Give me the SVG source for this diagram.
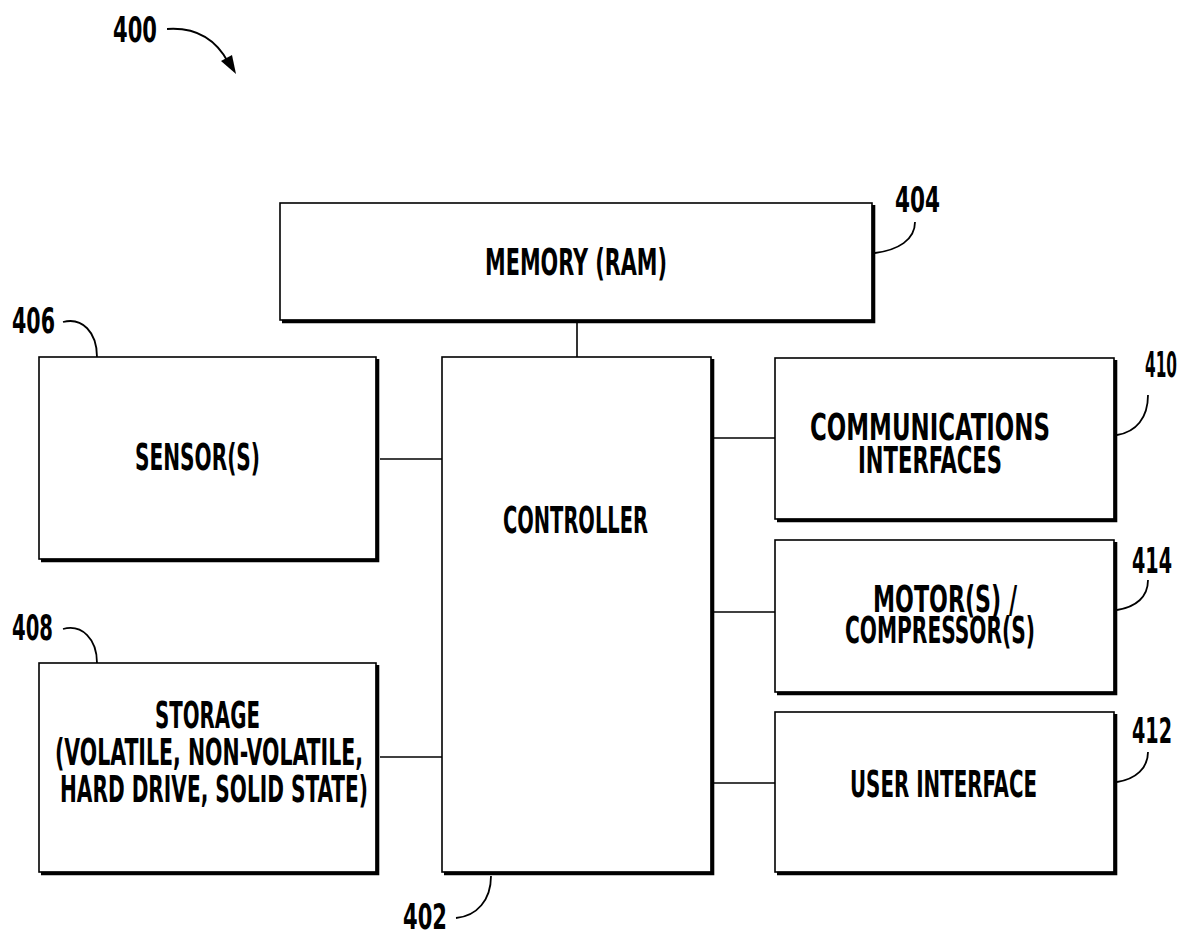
<svg xmlns="http://www.w3.org/2000/svg" width="1183" height="938" viewBox="0 0 1183 938">
<style>
.box{fill:#fff;stroke:#000;stroke-width:1.6}
.sh{fill:none;stroke:#000;stroke-width:3.6;stroke-linejoin:miter}
.ln{fill:none;stroke:#000;stroke-width:1.6}
.ld{fill:none;stroke:#000;stroke-width:1.8}
.t{font-family:"Liberation Sans Narrow","DejaVu Sans Condensed","Liberation Sans",sans-serif;font-size:38px;font-weight:bold;fill:#000;text-anchor:middle}
.n{font-family:"Liberation Sans Narrow","DejaVu Sans Condensed","Liberation Sans",sans-serif;font-size:36px;fill:#000;font-weight:bold}
.ne{text-anchor:end}
</style>
<rect width="1183" height="938" fill="#fff"/>
<g id="connectors">
<path class="ln" d="M577 322V357"/>
<path class="ln" d="M380 459H442"/>
<path class="ln" d="M380 757H442"/>
<path class="ln" d="M713 438H775"/>
<path class="ln" d="M713 612H775"/>
<path class="ln" d="M713 783H775"/>
</g>
<g id="fig-400">
<text class="n" x="113" y="42" textLength="44" lengthAdjust="spacingAndGlyphs">400</text>
<path class="ld" d="M167 29C195 27 215 38 228 62"/>
<polygon points="236,74 221,61 232,55" fill="#000"/>
</g>
<g id="memory-404">
<rect class="box" x="280" y="203" width="592" height="117"/>
<path class="sh" d="M873.5 205V321.5H282"/>
<text class="t" x="576" y="275" textLength="182" lengthAdjust="spacingAndGlyphs">MEMORY (RAM)</text>
<text class="n" x="895" y="212" textLength="45" lengthAdjust="spacingAndGlyphs">404</text>
<path class="ld" d="M875 253C898 250 915 240 915 222"/>
</g>
<g id="sensor-406">
<rect class="box" x="39" y="357" width="337" height="202"/>
<path class="sh" d="M377.5 359V560.5H41"/>
<text class="t" x="197.5" y="470" textLength="125" lengthAdjust="spacingAndGlyphs">SENSOR(S)</text>
<text class="n" x="12" y="333" textLength="43" lengthAdjust="spacingAndGlyphs">406</text>
<path class="ld" d="M63 322C82 317 97 332 97 357"/>
</g>
<g id="storage-408">
<rect class="box" x="39" y="663" width="337" height="209"/>
<path class="sh" d="M377.5 665V873.5H41"/>
<text class="t"><tspan x="207.5" y="728" textLength="105" lengthAdjust="spacingAndGlyphs">STORAGE</tspan><tspan x="209" y="765" textLength="308" lengthAdjust="spacingAndGlyphs">(VOLATILE, NON-VOLATILE,</tspan><tspan x="214" y="802" textLength="308" lengthAdjust="spacingAndGlyphs">HARD DRIVE, SOLID STATE)</tspan></text>
<text class="n" x="12" y="640" textLength="41" lengthAdjust="spacingAndGlyphs">408</text>
<path class="ld" d="M63 629C82 624 97 639 97 663"/>
</g>
<g id="controller-402">
<rect class="box" x="442" y="357" width="269" height="515"/>
<path class="sh" d="M712.5 359V873.5H444"/>
<text class="t" x="575.5" y="533" textLength="145" lengthAdjust="spacingAndGlyphs">CONTROLLER</text>
<text class="n" x="403" y="929" textLength="44" lengthAdjust="spacingAndGlyphs">402</text>
<path class="ld" d="M456 918C477 916 491 900 491 876"/>
</g>
<g id="comm-410">
<rect class="box" x="775" y="358" width="339" height="161"/>
<path class="sh" d="M1115.5 360V520.5H777"/>
<text class="t"><tspan x="930" y="440" textLength="240" lengthAdjust="spacingAndGlyphs">COMMUNICATIONS</tspan><tspan x="930" y="473" textLength="144" lengthAdjust="spacingAndGlyphs">INTERFACES</tspan></text>
<text class="n ne" x="1177" y="377" textLength="32" lengthAdjust="spacingAndGlyphs">410</text>
<path class="ld" d="M1117 435C1136 432 1148 418 1148 395"/>
</g>
<g id="motor-414">
<rect class="box" x="775" y="540" width="339" height="152"/>
<path class="sh" d="M1115.5 542V693.5H777"/>
<text class="t"><tspan x="945" y="612" textLength="144" lengthAdjust="spacingAndGlyphs">MOTOR(S) /</tspan><tspan x="940" y="643" textLength="190" lengthAdjust="spacingAndGlyphs">COMPRESSOR(S)</tspan></text>
<text class="n ne" x="1172" y="573" textLength="40" lengthAdjust="spacingAndGlyphs">414</text>
<path class="ld" d="M1117 610C1136 607 1148 597 1148 580"/>
</g>
<g id="ui-412">
<rect class="box" x="775" y="712" width="339" height="160"/>
<path class="sh" d="M1115.5 714V873.5H777"/>
<text class="t" x="943.5" y="797" textLength="187" lengthAdjust="spacingAndGlyphs">USER INTERFACE</text>
<text class="n ne" x="1172" y="743" textLength="40" lengthAdjust="spacingAndGlyphs">412</text>
<path class="ld" d="M1117 782C1136 779 1148 768 1148 752"/>
</g>
</svg>
